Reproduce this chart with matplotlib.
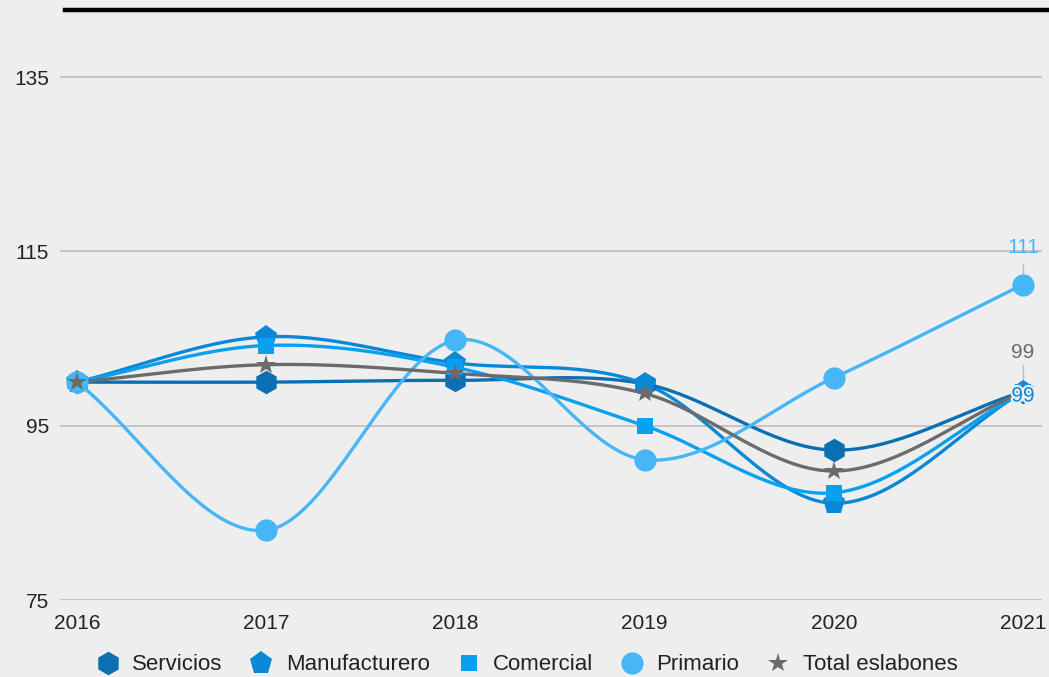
import numpy as np
import matplotlib
matplotlib.use("Agg")
import matplotlib.pyplot as plt
from matplotlib.lines import Line2D
import matplotlib.patheffects as pe

plt.rcParams['font.family'] = ['Liberation Sans', 'DejaVu Sans']

# datos
years = [2016, 2017, 2018, 2019, 2020, 2021]
servicios = [100.0, 100.0, 100.2, 99.8, 92.2, 98.9]
manufacturero = [100.0, 105.2, 102.2, 99.8, 86.1, 98.9]
comercial = [100.0, 104.2, 101.7, 95.0, 87.3, 98.9]
primario = [100.0, 83.0, 104.8, 91.1, 100.5, 111.2]
total = [100.0, 102.0, 101.0, 98.7, 89.8, 98.9]
yticks = [75, 95, 115, 135]

series = [
    ("Servicios", servicios, "#0b6fb3", "h", 17),
    ("Manufacturero", manufacturero, "#0a88d8", "p", 17),
    ("Comercial", comercial, "#0aa0f2", "s", 12),
    ("Primario", primario, "#47b6f6", "o", 16),
    ("Total eslabones", total, "#6b6b6b", "*", 15),
]


def smooth(x, y, n=40):
    # curva suave (hermite) entre los puntos
    x = np.asarray(x, float)
    y = np.asarray(y, float)
    m = np.zeros_like(y)
    m[1:-1] = (y[2:] - y[:-2]) / (x[2:] - x[:-2])
    m[0] = (y[1] - y[0]) / (x[1] - x[0])
    m[-1] = (y[-1] - y[-2]) / (x[-1] - x[-2])
    xs, ys = [], []
    for i in range(len(x) - 1):
        h = x[i + 1] - x[i]
        t = np.linspace(0, 1, n)
        h00 = 2 * t**3 - 3 * t**2 + 1
        h10 = t**3 - 2 * t**2 + t
        h01 = -2 * t**3 + 3 * t**2
        h11 = t**3 - t**2
        xs.append(x[i] + t * h)
        ys.append(h00 * y[i] + h10 * h * m[i] + h01 * y[i + 1] + h11 * h * m[i + 1])
    return np.concatenate(xs), np.concatenate(ys)


fig = plt.figure(figsize=(10.49, 6.77), dpi=100, facecolor="#eeeeee")
ax = fig.add_axes([60 / 1049, 1 - 600 / 677, 982 / 1049, 566.5 / 677])
ax.set_facecolor("#eeeeee")

for name, vals, col, mk, ms in series:
    sx, sy = smooth(years, vals)
    ax.plot(sx, sy, color=col, lw=2.4, zorder=3)
    ax.plot(years, vals, ls="none", marker=mk, ms=ms, color=col,
            markeredgewidth=0, zorder=4, label=name)

# etiquetas al final
halo = [pe.withStroke(linewidth=3, foreground="#eeeeee")]
ax.plot([2021, 2021], [primario[-1] + 1.2, 113.6], color="#bbbbbb", lw=1, zorder=2)
ax.text(2021, 114.4, "111", color="#47b6f6", fontsize=15, ha="center", va="bottom")
ax.plot([2021, 2021], [total[-1] + 0.6, 102.0], color="#bbbbbb", lw=1, zorder=2)
ax.text(2021, 102.3, "99", color="#6b6b6b", fontsize=15, ha="center", va="bottom")
ax.text(2021, 98.4, "99", color="#0a88d8", fontsize=15, ha="center", va="center",
        zorder=6, path_effects=halo)

ax.set_xlim(2016 - 17 / 189.2, 2021 + 19 / 189.2)
ax.set_ylim(75, 140)
ax.set_yticks(yticks)
ax.set_xticks(years)
ax.yaxis.grid(True, color="#bdbdbd", lw=1.2)
ax.set_axisbelow(True)
for s in ax.spines.values():
    s.set_visible(False)
ax.tick_params(length=0, labelsize=15, colors="#222222")
ax.tick_params(axis="y", pad=8)
ax.tick_params(axis="x", pad=10)

# linea negra superior
fig.add_artist(Line2D([65 / 1049, 1], [1 - 10 / 677, 1 - 10 / 677], color="black", lw=3.2))

fig.legend(loc="center", bbox_to_anchor=(527 / 1049, 1 - 665 / 677), ncol=5,
           frameon=False, fontsize=16, handlelength=1.0, handletextpad=0.6,
           columnspacing=1.25, markerscale=1.0, labelcolor="#222222")

fig.savefig("out.png", dpi=100, facecolor=fig.get_facecolor())
